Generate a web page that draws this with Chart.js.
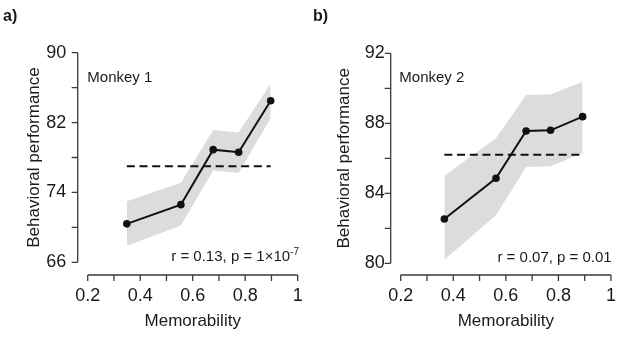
<!DOCTYPE html>
<html><head><meta charset="utf-8">
<script src="https://cdn.jsdelivr.net/npm/chart.js@4/dist/chart.umd.min.js"></script>
<style>
html,body{margin:0;padding:0;background:#fff;}
#wrap{position:relative;width:617px;height:338px;overflow:hidden;}
canvas{position:absolute;top:0;}
#ca{left:0;}
#cb{left:310px;}
</style></head><body>
<div id="wrap">
<canvas id="ca" width="310" height="338"></canvas>
<canvas id="cb" width="307" height="338"></canvas>
</div>
<script>
// ---------- data ----------
const xTickValues = [0.2, 0.3, 0.4, 0.5, 0.6, 0.7, 0.8, 0.9, 1.0];
const xTickLabels = ['0.2', '0.4', '0.6', '0.8', '1'];

// Monkey 1
const memorability1 = [0.349, 0.555, 0.678, 0.775, 0.897];
const performance1  = [70.4, 72.6, 78.9, 78.6, 84.5];
const upper1        = [73.0, 75.1, 81.15, 80.85, 86.45];
const lower1        = [67.9, 70.2, 76.5, 76.25, 82.5];
const reference1    = 77.0;
const yTickValues1  = [66, 70, 74, 78, 82, 86, 90];
const yTickLabels1  = ['66', '74', '82', '90'];

// Monkey 2
const memorability2 = [0.366, 0.5625, 0.677, 0.770, 0.892];
const performance2  = [82.53, 84.86, 87.56, 87.6, 88.38];
const upper2        = [85.0, 87.15, 89.62, 89.64, 90.38];
const lower2        = [80.2, 82.75, 85.5, 85.55, 86.3];
const reference2    = 86.2;
const yTickValues2  = [80, 82, 84, 86, 88, 90, 92];
const yTickLabels2  = ['80', '84', '88', '92'];

const FONT = '"Liberation Sans", Arial, Helvetica, sans-serif';
Chart.defaults.font.family = FONT;
Chart.defaults.color = '#1a1a1a';

const axisPlugin = {
  id: 'detachedAxes',
  afterDraw(chart, args, o) {
    const ctx = chart.ctx, ca = chart.chartArea;
    const xs = chart.scales.x, ys = chart.scales.y;
    ctx.save();
    ctx.strokeStyle = '#3a3a3a';
    ctx.lineWidth = 1.3;
    // y spine
    const sx = ca.left - o.yGap;
    const yTop = ys.getPixelForValue(ys.max), yBot = ys.getPixelForValue(ys.min);
    ctx.beginPath();
    ctx.moveTo(sx, yTop); ctx.lineTo(sx, yBot);
    ys.ticks.forEach(t => { const p = ys.getPixelForValue(t.value); ctx.moveTo(sx - 6, p); ctx.lineTo(sx, p); });
    ctx.stroke();
    // x spine
    const sy = ca.bottom + o.xGap;
    const xL = xs.getPixelForValue(xs.min), xR = xs.getPixelForValue(xs.max);
    ctx.beginPath();
    ctx.moveTo(xL, sy); ctx.lineTo(xR, sy);
    xs.ticks.forEach(t => { const p = xs.getPixelForValue(t.value); ctx.moveTo(p, sy); ctx.lineTo(p, sy + 6); });
    ctx.stroke();
    // texts
    ctx.fillStyle = '#1a1a1a';
    ctx.textBaseline = 'alphabetic';
    ctx.font = 'bold 16px ' + FONT;
    ctx.textAlign = 'left';
    ctx.fillText(o.panel, 3, 21);
    ctx.font = '15px ' + FONT;
    ctx.fillText(o.name, ca.left + o.nameDx, 82);
    ctx.textAlign = 'right';
    let rx = ca.right + o.statDx;
    if (o.statSup) {
      ctx.font = '10px ' + FONT;
      ctx.fillText(o.statSup, rx, ca.bottom - 7);
      rx -= ctx.measureText(o.statSup).width;
    }
    ctx.font = '15px ' + FONT;
    ctx.fillText(o.stat, rx, ca.bottom - 1);
    ctx.restore();
  }
};

function makePanel(id, p) {
  const bandLower = p.xs.map((x, i) => ({x, y: p.lo[i]}));
  const bandUpper = p.xs.map((x, i) => ({x, y: p.hi[i]}));
  const mean = p.xs.map((x, i) => ({x, y: p.y[i]}));
  const ref = [{x: p.xs[0], y: p.ref}, {x: p.xs[p.xs.length - 1], y: p.ref}];
  return new Chart(document.getElementById(id), {
    type: 'line',
    data: {
      datasets: [
        {data: bandLower, borderWidth: 0, pointRadius: 0, fill: false, borderColor: 'rgba(0,0,0,0)', order: 3},
        {data: bandUpper, borderWidth: 0, pointRadius: 0, fill: '-1', borderColor: 'rgba(0,0,0,0)', backgroundColor: 'rgb(219,220,221)', order: 2},
        {data: ref, borderColor: '#111', borderWidth: 2, borderDash: [8, 4.7], pointRadius: 0, fill: false, order: 1},
        {data: mean, borderColor: '#111', borderWidth: 2, pointRadius: 3.8, pointBackgroundColor: '#111', pointBorderWidth: 0, fill: false, order: 0}
      ]
    },
    options: {
      responsive: false,
      animation: false,
      devicePixelRatio: 1,
      layout: {padding: {left: 0, top: p.top, right: p.right, bottom: 0}},
      plugins: {
        legend: {display: false},
        tooltip: {enabled: false},
        detachedAxes: {yGap: 10, xGap: p.xGap, panel: p.panel, name: p.name, nameDx: p.nameDx, stat: p.stat, statSup: p.statSup, statDx: p.statDx}
      },
      scales: {
        x: {
          type: 'linear', min: 0.2, max: 1,
          afterFit: s => { s.height = 338 - p.bottom; s.paddingLeft = 0; s.paddingRight = 0; },
          afterBuildTicks: s => { s.ticks = xTickValues.map(v => ({value: v})); },
          grid: {display: false, drawTicks: false}, border: {display: false},
          ticks: {
            autoSkip: false, maxRotation: 0, padding: p.xPad,
            font: {size: 18}, color: '#1a1a1a',
            callback: v => { const s = String(Math.round(v * 10) / 10); return xTickLabels.includes(s) ? s : ''; }
          },
          title: {display: true, text: 'Memorability', font: {size: 17}, color: '#1a1a1a', padding: {top: 0, bottom: 6.3}}
        },
        y: {
          type: 'linear', min: p.ymin, max: p.ymax,
          afterFit: s => { s.width = p.left; s.paddingTop = 0; s.paddingBottom = 0; },
          afterBuildTicks: s => { s.ticks = p.yTicks.map(v => ({value: v})); },
          grid: {display: false, drawTicks: false}, border: {display: false},
          ticks: {
            autoSkip: false, padding: p.yPad, font: {size: 18}, color: '#1a1a1a',
            callback: v => (p.yLabels.includes(String(v)) ? String(v) : '')
          },
          title: {display: true, text: 'Behavioral performance', font: {size: 17}, color: '#1a1a1a', padding: {top: 23.8, bottom: 0}}
        }
      }
    },
    plugins: [axisPlugin]
  });
}

makePanel('ca', {
  xs: memorability1, y: performance1, hi: upper1, lo: lower1, ref: reference1,
  yTicks: yTickValues1, yLabels: yTickLabels1, ymin: 66, ymax: 90,
  left: 87.7, right: 310 - 297.7, top: 52.7, bottom: 262.3,
  xGap: 12.7, xPad: 23.4, yPad: 21.5,
  panel: 'a)', name: 'Monkey 1', nameDx: -0.4,
  stat: 'r = 0.13, p = 1×10', statSup: '-7', statDx: 1.3
});
makePanel('cb', {
  xs: memorability2, y: performance2, hi: upper2, lo: lower2, ref: reference2,
  yTicks: yTickValues2, yLabels: yTickLabels2, ymin: 80, ymax: 92,
  left: 90.7, right: 307 - 301, top: 53.3, bottom: 263.3,
  xGap: 11.7, xPad: 21.7, yPad: 16,
  panel: 'b)', name: 'Monkey 2', nameDx: -1.4,
  stat: 'r = 0.07, p = 0.01', statSup: '', statDx: 0.7
});
</script>
</body></html>
